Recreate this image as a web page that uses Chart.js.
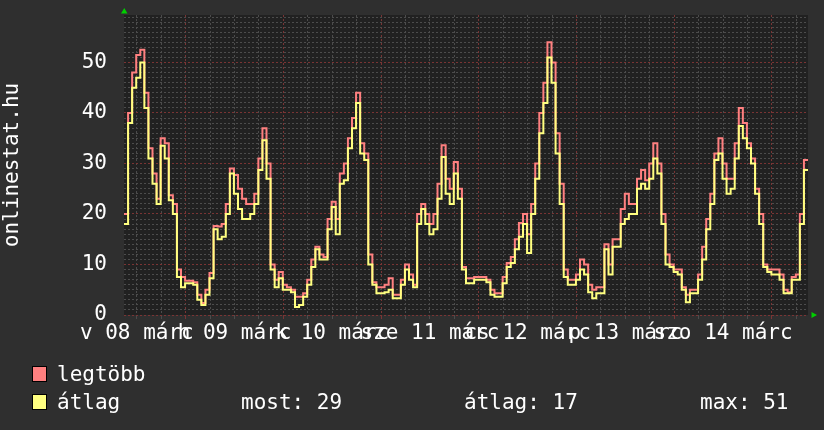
<!DOCTYPE html>
<html>
<head>
<meta charset="utf-8">
<script src="https://cdn.jsdelivr.net/npm/chart.js@4"></script>
<style>
  html, body { margin: 0; padding: 0; background: #2f2f2f; }
  canvas { display: block; }
</style>
</head>
<body>
<canvas id="myChart" width="824" height="430"></canvas>
<script>
// hourly samples, first one at 08 márc ~08:51
const legtobb = [
  20, 40, 48, 51.5, 52.5, 44, 33, 28, 23, 35,
  34, 23.7, 22, 9, 7.5, 6.8, 6.8, 6.5, 4, 2.4,
  5, 8.3, 17.6, 17.5, 18, 22, 29, 27.7, 25, 23,
  22, 22, 24, 31, 37, 30, 10, 7, 8.5, 6,
  5.5, 5, 3.6, 3.6, 4.3, 7, 11, 13.5, 12, 11.5,
  19, 22.4, 19, 28, 30, 35, 39, 44, 34, 32,
  12, 6.5, 5.5, 5.5, 6, 7.3, 4, 4, 7, 10,
  8, 6, 20, 22, 20, 18, 20, 26, 33.6, 27,
  25, 30.3, 25, 9.5, 7.3, 7.3, 7.5, 7.5, 7.5, 7,
  5, 4.3, 4.3, 7.5, 10.3, 11.5, 15, 18.2, 20, 16,
  22, 30, 40, 46, 54, 50, 36, 26, 9, 7,
  7, 8, 11, 10, 6, 5, 5.5, 5.5, 14, 10,
  15, 15, 21, 24, 22, 22, 27, 28.7, 26.7, 30,
  34, 30, 20, 12, 10, 9, 9, 5.5, 4, 5,
  5, 8, 13.5, 19, 24, 32, 35, 30, 27, 27,
  34, 41, 38, 34, 31, 25, 20, 10, 9, 9,
  9, 8, 5, 4.5, 7.5, 8, 20, 30.7
]
const atlag = [
  18, 38, 45, 47, 50, 41, 31, 26, 22, 33.5,
  31, 22.7, 20, 7.5, 5.5, 6.3, 6.3, 6, 3, 2,
  4, 7.3, 17, 15, 15.5, 20, 28, 24, 21, 19,
  19, 20, 22, 28.7, 34.6, 27, 9, 5.5, 7.3, 5,
  5, 4.5, 1.6, 2, 3.6, 6, 9.5, 13, 11, 11,
  17, 21.4, 16, 26, 26.7, 33, 37, 42, 32, 30.7,
  10, 6, 4.3, 4.3, 4.5, 5, 3.3, 3.3, 6, 9,
  7, 5.5, 18, 21, 18, 16, 17, 23, 31.3, 24,
  22, 28, 23, 9, 6.3, 6.3, 7, 7, 7, 6.5,
  4, 3.6, 3.6, 6.3, 9.5, 10.3, 13, 15.5, 18, 12.3,
  20, 27, 36, 42, 51, 46, 32, 22, 7.5, 6,
  6, 7, 9, 8, 4.5, 3.3, 4.3, 4.3, 13, 8,
  13.5, 13.5, 18, 19, 20, 20, 25, 26, 25, 27,
  31, 28, 18, 10, 9.5, 8.5, 8, 5, 2.5, 4.3,
  4.3, 7, 11, 17, 22, 30.7, 32, 27, 24, 25,
  31, 37.4, 35, 33, 30, 24, 18, 9.5, 8.5, 8,
  8, 7, 4.3, 4.3, 7, 7, 18, 28.7
]
const dayLabels = ['v 08 márc', 'h 09 márc', 'k 10 márc', 'sze 11 márc', 'cs 12 márc', 'p 13 márc', 'szo 14 márc']
const firstMidnight = 15.15 // hours from first sample to 09 márc 00:00
const totalHours = 168
const yMax = 59.4
const seriesNames = ['legtöbb', 'átlag']
const seriesColors = ['#ff8080', '#ffff80']
const stats = ['most: 29', 'átlag: 17', 'max: 51']

const FONT = "'DejaVu Sans Mono', monospace"
const gridGray = '#4c4c4c'
const gridRed = '#7a3434'

// stepped line: each sample covers one hour, extra point closes the last step
const toPoints = arr => arr.map((v, i) => ({ x: i, y: v })).concat({ x: arr.length, y: arr[arr.length - 1] })

const decor = {
  id: 'decor',
  beforeDraw(chart) {
    const { ctx, chartArea: a } = chart
    ctx.save()
    ctx.fillStyle = '#212121'
    ctx.fillRect(a.left, a.top, a.right - a.left, a.bottom - a.top)
    ctx.restore()
  },
  afterDraw(chart) {
    const { ctx, chartArea: a } = chart
    ctx.save()
    // green arrows
    ctx.fillStyle = '#00d000'
    ctx.beginPath()
    ctx.moveTo(a.left - 3, a.top - 1.5)
    ctx.lineTo(a.left + 3.5, a.top - 1.5)
    ctx.lineTo(a.left + 0.25, a.top - 7)
    ctx.fill()
    ctx.beginPath()
    ctx.moveTo(a.right + 3.5, a.bottom - 3)
    ctx.lineTo(a.right + 3.5, a.bottom + 3)
    ctx.lineTo(a.right + 9, a.bottom)
    ctx.fill()
    // legend
    ctx.font = '21px ' + FONT
    ctx.textBaseline = 'alphabetic'
    seriesNames.forEach((name, i) => {
      const y = 366 + i * 28
      ctx.fillStyle = seriesColors[i]
      ctx.fillRect(32, y, 15, 16)
      ctx.strokeStyle = '#000'
      ctx.lineWidth = 1
      ctx.strokeRect(32.5, y + 0.5, 14, 15)
      ctx.fillStyle = '#ffffff'
      ctx.fillText(name, 57, y + 15)
    })
    ctx.fillText(stats[0], 241, 409)
    ctx.fillText(stats[1], 464, 409)
    ctx.fillText(stats[2], 700, 409)
    ctx.restore()
  }
}

const ctx = document.getElementById('myChart').getContext('2d')
const chart = new Chart(ctx, {
  type: 'line',
  data: {
    datasets: [{
      label: seriesNames[1],
      data: toPoints(atlag),
      borderColor: seriesColors[1],
      order: 0
    }, {
      label: seriesNames[0],
      data: toPoints(legtobb),
      borderColor: seriesColors[0],
      order: 1
    }]
  },
  options: {
    responsive: false,
    animation: false,
    events: [],
    layout: { padding: { top: 15, right: 16, left: 0, bottom: 0 } },
    elements: {
      point: { radius: 0 },
      line: { borderWidth: 2, stepped: true, tension: 0, fill: false }
    },
    plugins: {
      legend: { display: false },
      tooltip: { enabled: false }
    },
    scales: {
      x: {
        type: 'linear',
        min: 0,
        max: totalHours,
        afterFit: s => { s.height = 115; s.paddingLeft = 0; s.paddingRight = 0 },
        afterBuildTicks: s => {
          const t = []
          for (let h = firstMidnight - 12; h < totalHours; h += 6) t.push({ value: h })
          s.ticks = t
        },
        grid: {
          color: c => (c.index % 4 === 2 ? gridRed : gridGray),
          tickColor: c => (c.index % 4 === 2 ? gridRed : gridGray),
          tickLength: 4,
          lineWidth: 1
        },
        border: { display: false, dash: [2, 2] },
        ticks: {
          autoSkip: false,
          maxRotation: 0,
          minRotation: 0,
          padding: 2,
          color: '#ffffff',
          font: { family: FONT, size: 21 },
          callback: (v, i) => (i % 4 === 0 ? dayLabels[i / 4] : '')
        }
      },
      y: {
        min: 0,
        max: yMax,
        afterFit: s => { s.width = 124; s.paddingTop = 0; s.paddingBottom = 0 },
        afterBuildTicks: s => {
          const t = []
          for (let v = 0; v < yMax; v++) t.push({ value: v })
          s.ticks = t
        },
        grid: {
          color: c => (c.tick && c.tick.value % 10 === 0 ? gridRed : gridGray),
          drawTicks: false,
          lineWidth: 1
        },
        border: { display: false, dash: [2, 2] },
        title: {
          display: true,
          text: 'onlinestat.hu',
          color: '#ffffff',
          font: { family: FONT, size: 21 },
          padding: { top: 0, bottom: 0 }
        },
        ticks: {
          autoSkip: false,
          padding: 17,
          color: '#ffffff',
          font: { family: FONT, size: 21 },
          callback: v => (v % 10 === 0 ? String(v) : '')
        }
      }
    }
  },
  plugins: [decor]
})
</script>
</body>
</html>
